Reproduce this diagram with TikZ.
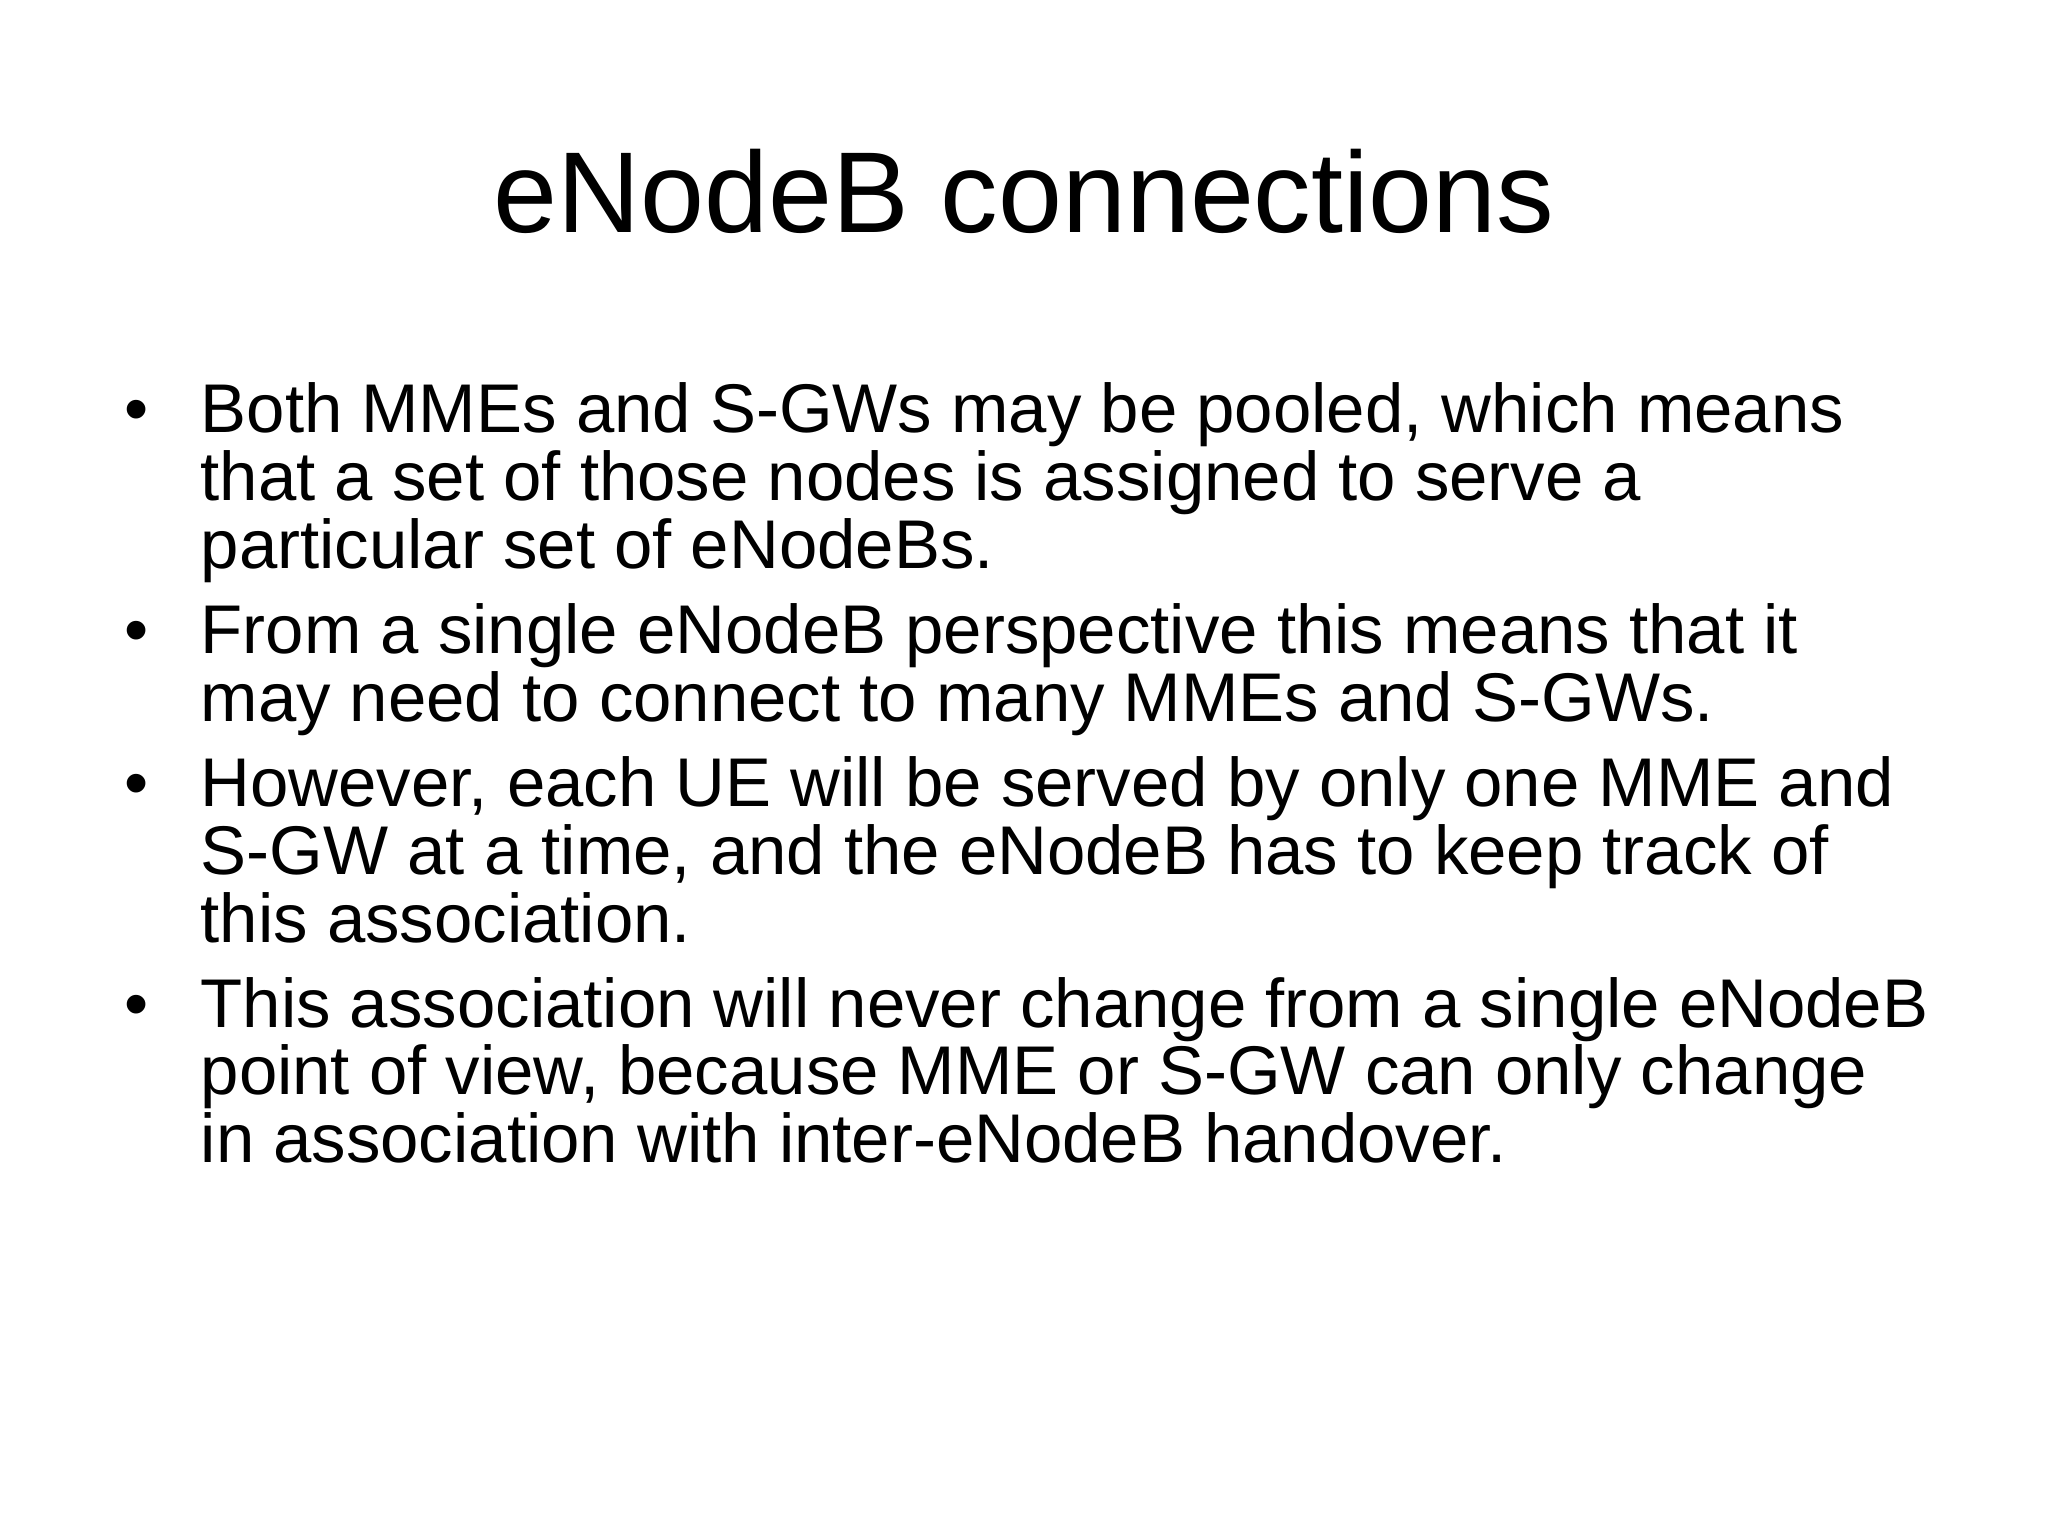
\documentclass[tikz,border=0pt]{standalone}
\usepackage{fontspec}
\setmainfont{Liberation Sans}
\begin{document}
\begin{tikzpicture}[x=0.01cm,y=-0.01cm,
  ln/.style={anchor=base west,inner sep=0pt,font=\fontsize{19.6pt}{20pt}\selectfont},
  bul/.style={anchor=base west,inner sep=0pt,font=\fontsize{19.6pt}{20pt}\selectfont}]
\useasboundingbox[fill=white] (0,0) rectangle (2048,1536);
\node[anchor=base,inner sep=0pt,font=\fontsize{32.7pt}{34pt}\selectfont] (title) at (1024,232) {eNodeB connections};
\foreach \y/\n in {432/b1,653/b2,806/b3,1027/b4}
  \node[bul] (\n) at (124,\y) {•};
\node[ln] (l1) at (200,432) {Both MMEs and S-GWs may be pooled, which means};
\node[ln] (l2) at (200,500) {that a set of those nodes is assigned to serve a};
\node[ln] (l3) at (200,568) {particular set of eNodeBs.};
\node[ln] (l4) at (200,653) {From a single eNodeB perspective this means that it};
\node[ln] (l5) at (200,721) {may need to connect to many MMEs and S-GWs.};
\node[ln] (l6) at (200,806) {However, each UE will be served by only one MME and};
\node[ln] (l7) at (200,874) {S-GW at a time, and the eNodeB has to keep track of};
\node[ln] (l8) at (200,942) {this association.};
\node[ln] (l9) at (200,1027) {This association will never change from a single eNodeB};
\node[ln] (l10) at (200,1094) {point of view, because MME or S-GW can only change};
\node[ln] (l11) at (200,1162) {in association with inter-eNodeB handover.};
\end{tikzpicture}
\end{document}
